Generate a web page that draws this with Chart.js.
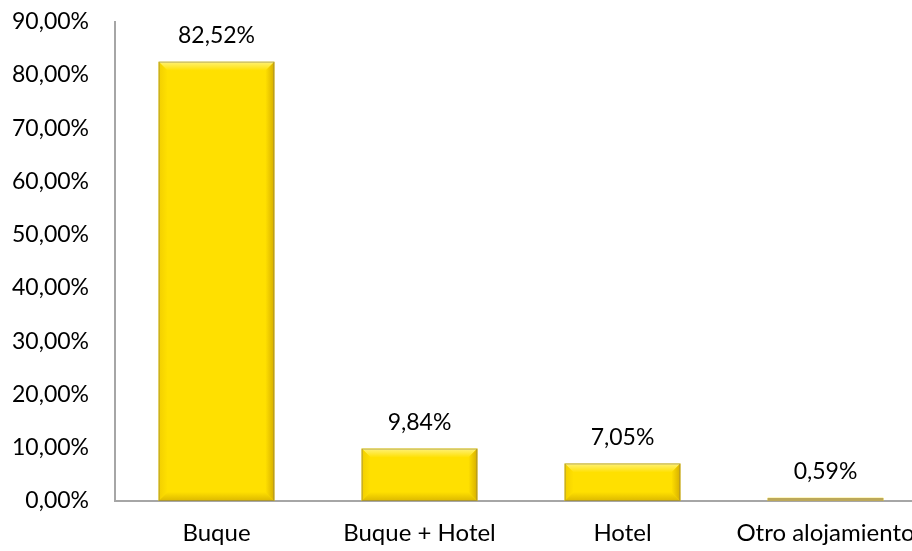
<!DOCTYPE html>
<html>
<head>
<meta charset="utf-8">
<script src="https://cdn.jsdelivr.net/npm/chart.js@4/dist/chart.umd.min.js"></script>
<style>
  html, body { margin: 0; padding: 0; background: #fff; overflow: hidden; }
  #wrap { position: absolute; left: 0; top: -18px; width: 960px; height: 569px; }
</style>
</head>
<body>
<div id="wrap"><canvas id="myChart" width="960" height="569"></canvas></div>
<script>
let categories = ['Buque', 'Buque + Hotel', 'Hotel', 'Otro alojamiento'];
let values = [82.52, 9.84, 7.05, 0.59];
let tickValues = [0, 10, 20, 30, 40, 50, 60, 70, 80, 90];

function pct(v) {
  return v.toFixed(2).replace('.', ',') + '%';
}

function grad(ctx, x0, y0, x1, y1, c0, c1) {
  let g = ctx.createLinearGradient(x0, y0, x1, y1);
  g.addColorStop(0, c0);
  g.addColorStop(1, c1);
  return g;
}

// soft bevel on the bars, drawn on top of the plain fill
let bevelPlugin = {
  id: 'bevel',
  afterDatasetsDraw(chart) {
    let ctx = chart.ctx;
    let meta = chart.getDatasetMeta(0);
    meta.data.forEach((bar) => {
      let p = bar.getProps(['x', 'y', 'base', 'width'], true);
      let l = p.x - p.width / 2, r = p.x + p.width / 2;
      let t = p.y, b = p.base;
      let h = b - t;
      ctx.save();
      if (h < 5) {
        ctx.fillStyle = '#bca85a';
        ctx.fillRect(l, b - 3, r - l, 3);
        ctx.restore();
        return;
      }
      let s = Math.min(9, h / 2);
      // top
      ctx.fillStyle = grad(ctx, 0, t, 0, t + s, '#fff27a', '#ffe000');
      ctx.beginPath();
      ctx.moveTo(l, t); ctx.lineTo(r, t); ctx.lineTo(r - s, t + s); ctx.lineTo(l + s, t + s);
      ctx.closePath(); ctx.fill();
      // left
      ctx.fillStyle = grad(ctx, l, 0, l + s, 0, '#f2cf00', '#ffe000');
      ctx.beginPath();
      ctx.moveTo(l, t); ctx.lineTo(l + s, t + s); ctx.lineTo(l + s, b - s); ctx.lineTo(l, b);
      ctx.closePath(); ctx.fill();
      // right
      ctx.fillStyle = grad(ctx, r, 0, r - s, 0, '#d6ae00', '#ffe000');
      ctx.beginPath();
      ctx.moveTo(r, t); ctx.lineTo(r - s, t + s); ctx.lineTo(r - s, b - s); ctx.lineTo(r, b);
      ctx.closePath(); ctx.fill();
      // bottom
      ctx.fillStyle = grad(ctx, 0, b, 0, b - s, '#dcb800', '#ffe000');
      ctx.beginPath();
      ctx.moveTo(l, b); ctx.lineTo(l + s, b - s); ctx.lineTo(r - s, b - s); ctx.lineTo(r, b);
      ctx.closePath(); ctx.fill();
      // thin grey edge
      ctx.strokeStyle = 'rgba(130,120,90,0.55)';
      ctx.lineWidth = 1;
      ctx.strokeRect(l + 0.5, t + 0.5, r - l - 1, h - 1);
      ctx.restore();
    });
  }
};

// value labels above the bars
let labelPlugin = {
  id: 'valueLabels',
  afterDatasetsDraw(chart) {
    let ctx = chart.ctx;
    let meta = chart.getDatasetMeta(0);
    ctx.save();
    ctx.font = '23px Lato';
    ctx.fillStyle = '#000';
    ctx.textAlign = 'center';
    ctx.textBaseline = 'middle';
    meta.data.forEach((bar, i) => {
      ctx.fillText(pct(values[i]), bar.x, bar.y - 26);
    });
    ctx.restore();
  }
};

var chart = document.getElementById('myChart').getContext('2d');
var myChart = new Chart(chart, {
  type: 'bar',
  data: {
    labels: categories,
    datasets: [
      {
        label: '',
        data: values,
        backgroundColor: '#ffe000',
        borderWidth: 0,
        barPercentage: 0.57,
        categoryPercentage: 1,
      },
    ],
  },
  options: {
    responsive: false,
    animation: false,
    layout: { padding: { top: 6, right: 33, left: 0, bottom: 0 } },
    plugins: {
      legend: { display: false },
      tooltip: { enabled: false },
    },
    scales: {
      x: {
        grid: { display: false, drawTicks: false },
        border: { color: '#a6a6a6', width: 2 },
        ticks: { color: '#000', font: { family: 'Lato', size: 24 }, padding: 18, maxRotation: 0, autoSkip: false },
        afterFit: (s) => { s.height = 50; },
      },
      y: {
        min: 0,
        max: 90,
        grid: { display: false, drawTicks: false },
        border: { color: '#a6a6a6', width: 2 },
        afterBuildTicks: (s) => { s.ticks = tickValues.map((v) => ({ value: v })); },
        ticks: {
          color: '#000',
          font: { family: 'Lato', size: 23 },
          padding: 26,
          callback: (v) => pct(v),
        },
        afterFit: (s) => { s.width = 115; },
      },
    },
  },
  plugins: [bevelPlugin, labelPlugin],
});
</script>
</body>
</html>
